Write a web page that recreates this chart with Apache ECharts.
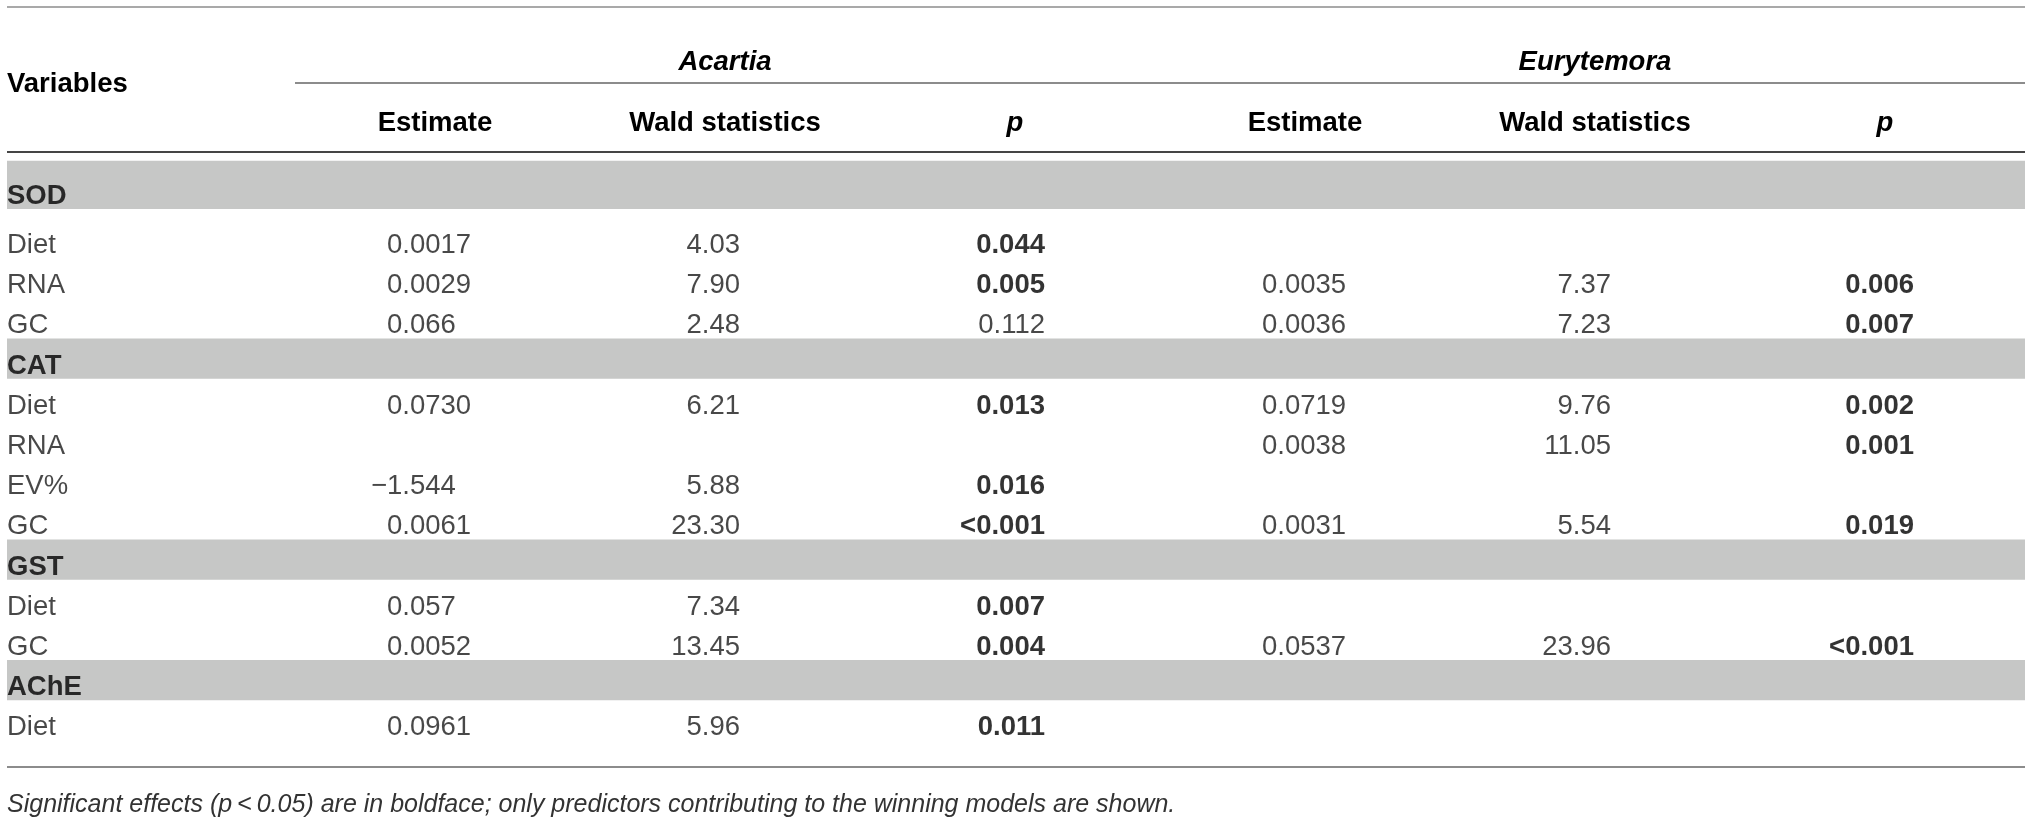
<!DOCTYPE html>
<html>
<head>
<meta charset="utf-8">
<script src="https://cdn.jsdelivr.net/npm/echarts@6/dist/echarts.min.js"></script>
<style>
html,body{margin:0;padding:0;background:#fff}
#main{width:2032px;height:818px}
</style>
</head>
<body>
<div id="main"></div>
<script>
// table content
var headerLabels = ['', 'Estimate', 'Wald statistics', 'p', 'Estimate', 'Wald statistics', 'p'];
var speciesLabels = ['', '', 'Acartia', '', '', 'Eurytemora', ''];
var rowLabels = ['SOD', 'Diet', 'RNA', 'GC', 'CAT', 'Diet', 'RNA', 'EV%', 'GC', 'GST', 'Diet', 'GC', 'AChE', 'Diet'];
var groupRows = [0, 4, 9, 12];
var acartiaEstimate = ['', '0.0017', '0.0029', '0.066', '', '0.0730', '', '\u22121.544', '0.0061', '', '0.057', '0.0052', '', '0.0961'];
var acartiaWald = ['', '4.03', '7.90', '2.48', '', '6.21', '', '5.88', '23.30', '', '7.34', '13.45', '', '5.96'];
var acartiaP = ['', '0.044', '0.005', '0.112', '', '0.013', '', '0.016', '<0.001', '', '0.007', '0.004', '', '0.011'];
var euryEstimate = ['', '', '0.0035', '0.0036', '', '0.0719', '0.0038', '', '0.0031', '', '', '0.0537', '', ''];
var euryWald = ['', '', '7.37', '7.23', '', '9.76', '11.05', '', '5.54', '', '', '23.96', '', ''];
var euryP = ['', '', '0.006', '0.007', '', '0.002', '0.001', '', '0.019', '', '', '<0.001', '', ''];
var footnote = 'Significant effects (p\u2009<\u20090.05) are in boldface; only predictors contributing to the winning models are shown.';

var FONT = '"Liberation Sans", Arial, sans-serif';
var SIZE = 27.5;
var INK = '#1a1a1a';
var TEXT_DROP = 7.5;   // text sits low in its row
var FIRST_LIFT = 9;    // first group row sits a bit higher

// per column: align + shift from column centre
var colStyle = [
    {align: 'left', dx: -138},
    {align: 'left', dx: -48},
    {align: 'right', dx: 15},
    {align: 'right', dx: 30},
    {align: 'left', dx: -43},
    {align: 'right', dx: 16},
    {align: 'right', dx: 29}
];

var ctx = document.createElement('canvas').getContext('2d');
ctx.font = SIZE + 'px ' + FONT;
var minusW = ctx.measureText('\u2212').width;

function isSig(v){
    if(v.charAt(0) == '<'){return true}
    return parseFloat(v) < 0.05;
}

var columns = [rowLabels, acartiaEstimate, acartiaWald, acartiaP, euryEstimate, euryWald, euryP];
var series = [];

series.push({
    type: 'custom',
    z: 1,
    silent: true,
    renderItem: function(params, api){
        var row = api.value(1);
        var y = api.coord([0, row])[1];
        var h = api.size([0, 1])[1];
        var cs = params.coordSys;
        var top = y - h / 2, bottom = y + h / 2;
        if(row === 0){
            top -= FIRST_LIFT + 8;
            bottom -= FIRST_LIFT;
        }
        return {
            type: 'rect',
            shape: {x: cs.x + 7, y: top, width: cs.width - 12, height: bottom - top},
            style: {fill: '#c6c7c6'}
        };
    },
    encode: {x: 0, y: 1},
    data: groupRows.map(function(r){return [0, r]})
});

for(var c = 0; c < columns.length; c++){
    var vals = columns[c];
    var data = [];
    for(var r = 0; r < vals.length; r++){
        var v = vals[r];
        if(!v){continue}
        var bold = false;
        if(c == 0){bold = groupRows.indexOf(r) > -1}
        if(c == 3 || c == 6){bold = isSig(v)}
        var dx = colStyle[c].dx;
        if(v.charAt(0) == '\u2212' && colStyle[c].align == 'left'){dx -= minusW}
        var dy = r === 0 ? TEXT_DROP - FIRST_LIFT : TEXT_DROP;
        data.push({
            value: [c, r],
            text: v,
            label: {
                fontWeight: bold ? 'bold' : 'normal',
                color: bold ? '#000' : INK,
                offset: [dx, dy]
            }
        });
    }
    series.push({
        type: 'scatter',
        z: 3,
        symbolSize: 0,
        silent: true,
        data: data,
        label: {
            show: true,
            position: 'inside',
            align: colStyle[c].align,
            verticalAlign: 'middle',
            fontFamily: FONT,
            fontSize: SIZE,
            color: INK,
            formatter: function(p){return p.data.text}
        }
    });
}

function rule(y, x1, color, w){
    return {type: 'line', silent: true, shape: {x1: x1, y1: y, x2: 2025, y2: y}, style: {stroke: color, lineWidth: w}};
}

var chart = echarts.init(document.getElementById('main'));
chart.setOption({
    animation: false,
    backgroundColor: '#fff',
    title: {
        text: footnote,
        left: 7,
        top: 793,
        padding: 0,
        textStyle: {fontFamily: FONT, fontSize: 25, lineHeight: 25, fontStyle: 'italic', fontWeight: 'normal', color: '#333'}
    },
    grid: {left: 0, right: 2, top: 177.7, bottom: 77.5},
    xAxis: [
        {
            type: 'category',
            position: 'top',
            data: headerLabels.map(function(h){
                return h == 'p' ? {value: h, textStyle: {fontStyle: 'italic', verticalAlign: 'middle'}} : h;
            }),
            axisLine: {show: false},
            axisTick: {show: false},
            splitLine: {show: false},
            axisLabel: {interval: 0, margin: 54.7, verticalAlign: 'middle', fontFamily: FONT, fontSize: SIZE, fontWeight: 'bold', color: '#000'}
        },
        {
            type: 'category',
            position: 'top',
            data: speciesLabels,
            axisLine: {show: false},
            axisTick: {show: false},
            splitLine: {show: false},
            axisLabel: {interval: 0, margin: 115.7, verticalAlign: 'middle', fontFamily: FONT, fontSize: SIZE, fontWeight: 'bold', fontStyle: 'italic', color: '#000'}
        }
    ],
    yAxis: {
        type: 'category',
        inverse: true,
        data: rowLabels,
        show: false
    },
    graphic: [
        rule(7, 7, '#8c8c8c', 1.5),
        rule(83, 295, '#8c8c8c', 2),
        rule(152, 7, '#454545', 2),
        rule(767, 7, '#8c8c8c', 2),
        {
            type: 'text',
            x: 7,
            y: 84,
            style: {text: 'Variables', font: 'bold ' + SIZE + 'px ' + FONT, fill: '#000', verticalAlign: 'middle'}
        }
    ],
    series: series
});
</script>
</body>
</html>
